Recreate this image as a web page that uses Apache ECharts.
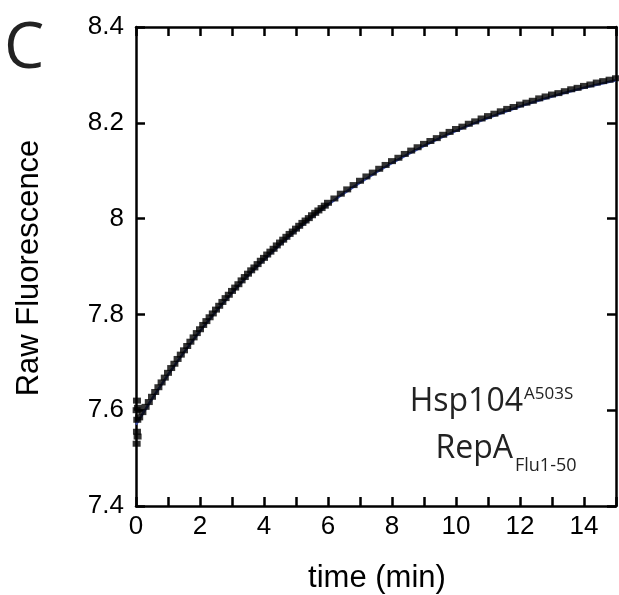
<!DOCTYPE html>
<html>
<head>
<meta charset="utf-8">
<script src="https://cdn.jsdelivr.net/npm/echarts@6/dist/echarts.min.js"></script>
<style>
html,body{margin:0;padding:0;background:#fff;}
#chart{width:619px;height:595px;}
</style>
</head>
<body>
<div id="chart"></div>
<script>
// Measured data (time in min, raw fluorescence)
var timeData = [0.02, 0.02, 0.03, 0.03, 0.04, 0.05, 0.06, 0.1,
  0.2, 0.3, 0.4, 0.5, 0.6, 0.7, 0.8, 0.9, 1.0, 1.1, 1.2, 1.3, 1.4, 1.5, 1.6, 1.7, 1.8, 1.9,
  2.0, 2.1, 2.2, 2.3, 2.4, 2.5, 2.6, 2.7, 2.8, 2.9, 3.0, 3.1, 3.2, 3.3, 3.4, 3.5, 3.6, 3.7, 3.8, 3.9,
  4.0, 4.1, 4.2, 4.3, 4.4, 4.5, 4.6, 4.7, 4.8, 4.9, 5.0, 5.1, 5.2, 5.3, 5.4, 5.5, 5.6, 5.7, 5.8, 5.9, 6.0,
  6.2, 6.4, 6.6, 6.8, 7.0, 7.2, 7.4, 7.6, 7.8, 8.0, 8.2, 8.4, 8.6, 8.8, 9.0, 9.2, 9.4, 9.6, 9.8, 10.0,
  10.2, 10.4, 10.6, 10.8, 11.0, 11.2, 11.4, 11.6, 11.8, 12.0, 12.2, 12.4, 12.6, 12.8, 13.0,
  13.2, 13.4, 13.6, 13.8, 14.0, 14.2, 14.4, 14.6, 14.8, 15.0];
var fluorData = [7.53, 7.60, 7.555, 7.62, 7.58, 7.545, 7.605, 7.585,
  7.596, 7.607, 7.617, 7.628, 7.638, 7.648, 7.658, 7.668, 7.678, 7.688, 7.697, 7.707, 7.716, 7.725, 7.734, 7.743, 7.752, 7.761,
  7.769, 7.778, 7.786, 7.794, 7.802, 7.810, 7.818, 7.826, 7.834, 7.841, 7.849, 7.856, 7.863, 7.871, 7.878, 7.885, 7.892, 7.898, 7.905, 7.912,
  7.918, 7.925, 7.931, 7.937, 7.944, 7.950, 7.956, 7.962, 7.968, 7.973, 7.979, 7.985, 7.991, 7.996, 8.001, 8.007, 8.012, 8.017, 8.022, 8.027, 8.033,
  8.042, 8.052, 8.061, 8.070, 8.079, 8.088, 8.096, 8.104, 8.112, 8.120, 8.127, 8.135, 8.142, 8.149, 8.156, 8.162, 8.168, 8.175, 8.181, 8.187,
  8.192, 8.198, 8.203, 8.209, 8.214, 8.219, 8.224, 8.229, 8.233, 8.238, 8.242, 8.246, 8.251, 8.255, 8.259,
  8.262, 8.266, 8.270, 8.273, 8.277, 8.280, 8.284, 8.287, 8.290, 8.293];

// Fitted curve
var fitTime = [0, 1, 2, 3, 4, 5, 6, 7, 8, 9, 10, 11, 12, 13, 14, 15];
var fitValues = [7.570, 7.674, 7.765, 7.845, 7.914, 7.975, 8.029, 8.075, 8.116, 8.152, 8.183, 8.210, 8.234, 8.255, 8.273, 8.289];

// Axis settings
var xMin = 0, xMax = 15, xStep = 1;
var yMin = 7.4, yMax = 8.4, yStep = 0.2;

var chart = echarts.init(document.getElementById('chart'), null, {renderer: 'canvas'});

var axisLineStyle = {color: '#000', width: 2.5};
var tickStyle = {color: '#000', width: 2.5};
var labelFont = 'Liberation Sans';

var option = {
  animation: false,
  backgroundColor: '#fff',
  grid: {left: 136, right: 2, top: 27, bottom: 89, containLabel: false},
  xAxis: [{
    type: 'value', min: xMin, max: xMax, interval: xStep, position: 'bottom',
    axisLine: {show: true, onZero: false, lineStyle: axisLineStyle},
    axisTick: {show: true, inside: true, length: 9, lineStyle: tickStyle},
    axisLabel: {show: true, fontSize: 26, fontFamily: labelFont, color: '#000', margin: 8,
      formatter: function (v) { return (Math.round(v) % 2 === 0) ? String(Math.round(v)) : ''; }},
    splitLine: {show: false}
  }, {
    type: 'value', min: xMin, max: xMax, interval: xStep, position: 'top',
    axisLine: {show: true, onZero: false, lineStyle: axisLineStyle},
    axisTick: {show: true, inside: true, length: 9, lineStyle: tickStyle},
    axisLabel: {show: false},
    splitLine: {show: false}
  }],
  yAxis: [{
    type: 'value', min: yMin, max: yMax, interval: yStep, position: 'left',
    axisLine: {show: true, onZero: false, lineStyle: axisLineStyle},
    axisTick: {show: true, inside: true, length: 9, lineStyle: tickStyle},
    axisLabel: {show: true, fontSize: 26, fontFamily: labelFont, color: '#000', margin: 12,
      formatter: function (v) { return String(parseFloat(v.toFixed(1))); }},
    splitLine: {show: false}
  }, {
    type: 'value', min: yMin, max: yMax, interval: yStep, position: 'right',
    axisLine: {show: true, onZero: false, lineStyle: axisLineStyle},
    axisTick: {show: true, inside: true, length: 9, lineStyle: tickStyle},
    axisLabel: {show: false},
    splitLine: {show: false}
  }],
  series: [{
    type: 'line',
    xAxisIndex: 0, yAxisIndex: 0,
    data: fitTime.map(function (t, i) { return [t, fitValues[i]]; }),
    smooth: true,
    showSymbol: false,
    lineStyle: {color: '#3a4ea8', width: 2.5},
    z: 2
  }, {
    type: 'scatter',
    xAxisIndex: 0, yAxisIndex: 0,
    data: timeData.map(function (t, i) { return [t, fluorData[i]]; }),
    symbol: 'rect',
    symbolSize: [8, 6],
    itemStyle: {color: '#000'},
    z: 3
  }],
  graphic: [
    {type: 'text', left: 4, top: 18, style: {text: 'C', font: '64px "Open Sans"', fill: '#222'}},
    {type: 'text', x: 29, y: 268, rotation: Math.PI / 2,
      style: {text: 'Raw Fluorescence', font: '31px "Liberation Sans"', fill: '#000', align: 'center', verticalAlign: 'middle'}},
    {type: 'text', x: 377, y: 578,
      style: {text: 'time (min)', font: '31px "Liberation Sans"', fill: '#000', align: 'center', verticalAlign: 'middle'}},
    {type: 'text', x: 523, y: 402,
      style: {text: 'Hsp104', font: '32px "Open Sans"', fill: '#222', align: 'right', verticalAlign: 'middle'}},
    {type: 'text', x: 524, y: 394,
      style: {text: 'A503S', font: '17px "Open Sans"', fill: '#222', align: 'left', verticalAlign: 'middle'}},
    {type: 'text', x: 513, y: 449,
      style: {text: 'RepA', font: '32px "Open Sans"', fill: '#222', align: 'right', verticalAlign: 'middle'}},
    {type: 'text', x: 515, y: 466,
      style: {text: 'Flu1-50', font: '18px "Open Sans"', fill: '#222', align: 'left', verticalAlign: 'middle'}}
  ]
};
chart.setOption(option);
</script>
</body>
</html>
